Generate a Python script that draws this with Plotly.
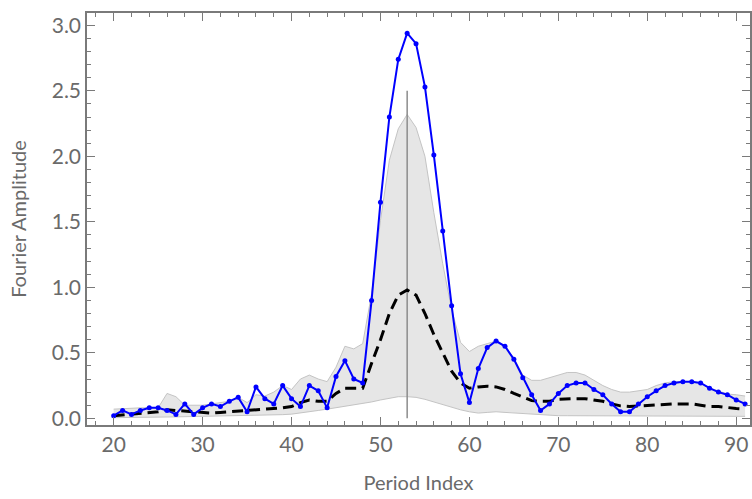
import plotly.graph_objects as go

period = list(range(20, 92))

amplitude = [0.02, 0.06, 0.03, 0.06, 0.08, 0.08, 0.06, 0.03, 0.11, 0.03,
             0.08, 0.11, 0.09, 0.13, 0.16, 0.05, 0.24, 0.15, 0.11, 0.25,
             0.15, 0.09, 0.25, 0.21, 0.08, 0.32, 0.44, 0.30, 0.27, 0.90,
             1.65, 2.30, 2.74, 2.94, 2.86, 2.53, 2.01, 1.43, 0.86, 0.34,
             0.12, 0.38, 0.54, 0.59, 0.55, 0.45, 0.31, 0.18, 0.06, 0.11,
             0.19, 0.25, 0.27, 0.27, 0.22, 0.18, 0.11, 0.05, 0.05, 0.11,
             0.165, 0.21, 0.25, 0.27, 0.28, 0.28, 0.27, 0.23, 0.20, 0.18,
             0.14, 0.11]

mean_amp = [0.02, 0.025, 0.03, 0.035, 0.04, 0.05, 0.065, 0.06, 0.05, 0.045,
            0.04, 0.04, 0.045, 0.05, 0.05, 0.055, 0.065, 0.07, 0.07, 0.08,
            0.09, 0.12, 0.14, 0.13, 0.13, 0.19, 0.23, 0.23, 0.23, 0.42,
            0.60, 0.80, 0.94, 0.98, 0.94, 0.80, 0.64, 0.50, 0.36, 0.27,
            0.23, 0.24, 0.245, 0.24, 0.22, 0.19, 0.16, 0.135, 0.13, 0.13,
            0.145, 0.15, 0.15, 0.15, 0.14, 0.13, 0.11, 0.095, 0.09, 0.095,
            0.10, 0.105, 0.11, 0.11, 0.11, 0.11, 0.10, 0.09, 0.09, 0.08,
            0.075, 0.07]

upper_amp = [0.07, 0.075, 0.075, 0.08, 0.08, 0.08, 0.19, 0.165, 0.10, 0.10,
             0.10, 0.11, 0.12, 0.13, 0.16, 0.12, 0.18, 0.17, 0.20, 0.25,
             0.22, 0.30, 0.33, 0.30, 0.28, 0.39, 0.55, 0.53, 0.57, 0.95,
             1.51, 1.97, 2.21, 2.32, 2.22, 2.00, 1.57, 1.18, 0.83, 0.58,
             0.51, 0.55, 0.57, 0.59, 0.55, 0.46, 0.33, 0.29, 0.29, 0.31,
             0.33, 0.35, 0.35, 0.33, 0.29, 0.25, 0.22, 0.20, 0.20, 0.21,
             0.22, 0.25, 0.27, 0.28, 0.28, 0.28, 0.27, 0.23, 0.21, 0.185,
             0.18, 0.17]

lower_amp = [0.005, 0.005, 0.006, 0.007, 0.008, 0.009, 0.01, 0.011, 0.012, 0.013,
             0.014, 0.015, 0.016, 0.017, 0.018, 0.019, 0.02, 0.022, 0.025, 0.028,
             0.032, 0.04, 0.05, 0.06, 0.07, 0.08, 0.09, 0.10, 0.11, 0.125,
             0.14, 0.155, 0.165, 0.165, 0.16, 0.145, 0.125, 0.10, 0.08, 0.065,
             0.05, 0.04, 0.045, 0.05, 0.045, 0.04, 0.035, 0.03, 0.025, 0.022,
             0.02, 0.02, 0.02, 0.019, 0.018, 0.018, 0.018, 0.017, 0.017, 0.017,
             0.016, 0.016, 0.016, 0.016, 0.015, 0.015, 0.015, 0.015, 0.015, 0.015,
             0.015, 0.015]

marker_period = 53
marker_top = 2.5

fig = go.Figure()

fig.add_trace(go.Scatter(x=period, y=lower_amp, mode="lines",
                         line=dict(color="#c4c4c4", width=1), showlegend=False,
                         hoverinfo="skip"))
fig.add_trace(go.Scatter(x=period, y=upper_amp, mode="lines", fill="tonexty",
                         fillcolor="#e6e6e6",
                         line=dict(color="#c4c4c4", width=1), showlegend=False,
                         hoverinfo="skip"))
fig.add_trace(go.Scatter(x=[marker_period, marker_period], y=[0, marker_top],
                         mode="lines", line=dict(color="#8c8c8c", width=1.5),
                         showlegend=False))
fig.add_trace(go.Scatter(x=period, y=mean_amp, mode="lines",
                         line=dict(color="black", width=3, dash="11px,6px"),
                         showlegend=False))
fig.add_trace(go.Scatter(x=period, y=amplitude, mode="lines+markers",
                         line=dict(color="#0000ff", width=2),
                         marker=dict(color="#0000ff", size=5),
                         showlegend=False))

axis_font = dict(family="Lato, DejaVu Sans, sans-serif", size=21, color="#6a6a6a")
title_font = dict(family="Lato, DejaVu Sans, sans-serif", size=20, color="#6a6a6a")

fig.update_xaxes(range=[17, 91.55], tickvals=[20, 30, 40, 50, 60, 70, 80, 90],
                 ticks="inside", ticklen=8, tickcolor="#7a7a7a", tickwidth=1,
                 minor=dict(ticks="inside", dtick=2, ticklen=4, tickcolor="#7a7a7a"),
                 showline=True, linecolor="#7a7a7a", linewidth=1.5, mirror="ticks",
                 showgrid=False, zeroline=False, tickfont=axis_font, automargin=False,
                 title=dict(text="Period Index", font=title_font, standoff=21))
fig.update_yaxes(range=[-0.051, 3.094], tickvals=[0, 0.5, 1, 1.5, 2, 2.5, 3],
                 ticktext=["0.0", "0.5", "1.0", "1.5", "2.0", "2.5", "3.0"],
                 ticks="inside", ticklen=8, tickcolor="#7a7a7a", tickwidth=1,
                 minor=dict(ticks="inside", dtick=0.1, ticklen=4, tickcolor="#7a7a7a"),
                 showline=True, linecolor="#7a7a7a", linewidth=1.5, mirror="ticks",
                 showgrid=False, zeroline=False, tickfont=axis_font, automargin=False,
                 title=dict(text="Fourier Amplitude", font=title_font, standoff=20))

fig.update_layout(width=752, height=499, plot_bgcolor="white", paper_bgcolor="white",
                  margin=dict(l=87, r=2, t=13, b=74))

# remove the default page margin so the figure fills the window exactly
fig.write_html("out.html",
               config={"displayModeBar": False},
               post_script="document.body.style.margin='0';"
                           "document.body.style.overflow='hidden';")
